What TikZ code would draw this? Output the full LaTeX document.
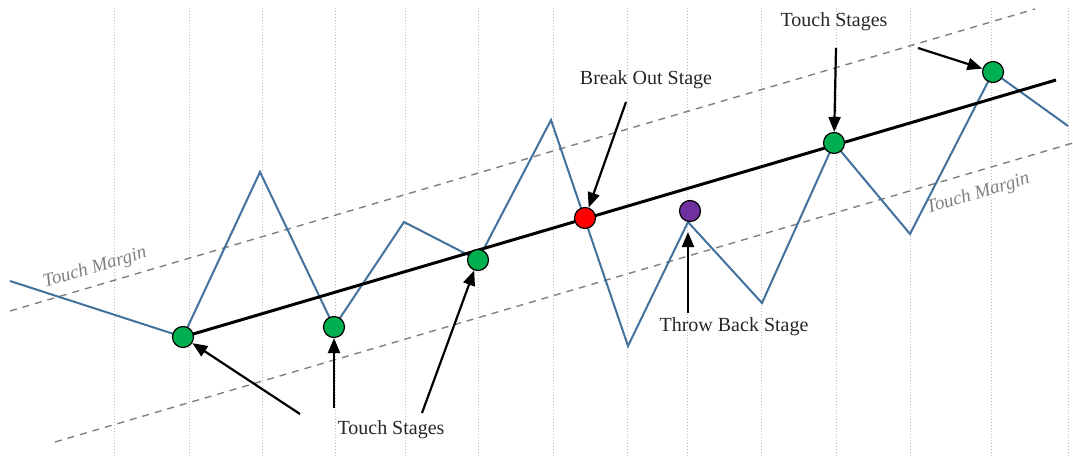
\documentclass[tikz,border=0pt]{standalone}
\usepackage{fontspec}
\setmainfont{Liberation Serif}
\usetikzlibrary{arrows.meta}
\definecolor{zig}{RGB}{65,113,156}
\definecolor{dotgreen}{RGB}{0,176,80}
\definecolor{dotpurple}{RGB}{112,48,160}
\definecolor{gridgray}{RGB}{190,190,190}
\definecolor{dashgray}{RGB}{128,128,128}
\tikzset{
  gridline/.style={gridgray, line width=1pt, dotted},
  margin/.style={dashgray, line width=1.4pt, dash pattern=on 7pt off 6pt},
  zigline/.style={zig, line width=2pt, line join=miter},
  trend/.style={black, line width=3pt},
  dot/.style={circle, draw=black, line width=1.2pt, minimum size=21pt, inner sep=0pt},
  arr/.style={black, line width=2.2pt, -{Triangle[length=15pt,width=12pt]}},
  lbl/.style={font=\fontsize{20}{24}\selectfont, text=black!85, inner sep=1pt},
  mlbl/.style={font=\fontsize{19}{23}\selectfont\itshape, text=dashgray, inner sep=1pt}
}
\begin{document}
\begin{tikzpicture}[x=1pt,y=-1pt]
\useasboundingbox (0,0) rectangle (1073,457);
% grid
\foreach \gx in {114,189,262,335,405,478,553,627,687,761,836,910,991,1068}
  \draw[gridline] (\gx,8) -- (\gx,457);
% margins
\draw[margin] (10,311) -- (1035,9);
\draw[margin] (55,442) -- (1073,143);
\node[mlbl, rotate=16.4] (m1) at (95,268) {Touch Margin};
\node[mlbl, rotate=16.4] (m2) at (978,194) {Touch Margin};
% zigzag
\coordinate (z0) at (10,281);
\coordinate (p1) at (260,172);
\coordinate (p2) at (404,222);
\coordinate (p3) at (551,120);
\coordinate (t1) at (628,346);
\coordinate (pk) at (688,222);
\coordinate (t2) at (762,303);
\coordinate (t3) at (910,234);
\coordinate (z1) at (1068,126);
\coordinate (tr) at (1056,80);
\draw[zigline] (z0) -- (183,337) -- (p1) -- (334,327) -- (p2) -- (478,260) -- (p3) -- (t1) -- (pk) -- (t2) -- (834,143) -- (t3) -- (993,72) -- (z1);
% trend
\draw[trend] (183,337) -- (tr);
% dots
\node[dot, fill=dotgreen] (g1) at (183,337) {};
\node[dot, fill=dotgreen] (g2) at (334,327) {};
\node[dot, fill=dotgreen] (g3) at (478,260) {};
\node[dot, fill=red] (r1) at (585,218) {};
\node[dot, fill=dotpurple] (u1) at (690,211) {};
\node[dot, fill=dotgreen] (g5) at (834,143) {};
\node[dot, fill=dotgreen] (g6) at (993,72) {};
% labels
\node[lbl] (ts1) at (391,430) {Touch Stages};
\node[lbl] (bo) at (646,80) {Break Out Stage};
\node[lbl] (tb) at (734,327) {Throw Back Stage};
\node[lbl] (ts2) at (834,22) {Touch Stages};
% arrow tails
\coordinate (a1) at (300,414);
\coordinate (a2) at (334,408);
\coordinate (a3) at (422,413);
\coordinate (a4) at (626,102);
\coordinate (a5) at (688,313);
\coordinate (a6) at (836,48);
\coordinate (a7) at (918,48);
\draw[arr] (a1) -- (g1);
\draw[arr] (a2) -- (g2);
\draw[arr] (a3) -- (g3);
\draw[arr] (a4) -- (r1);
\draw[arr, shorten >=10pt] (a5) -- (pk);
\draw[arr] (a6) -- (g5);
\draw[arr] (a7) -- (g6);
\end{tikzpicture}
\end{document}
